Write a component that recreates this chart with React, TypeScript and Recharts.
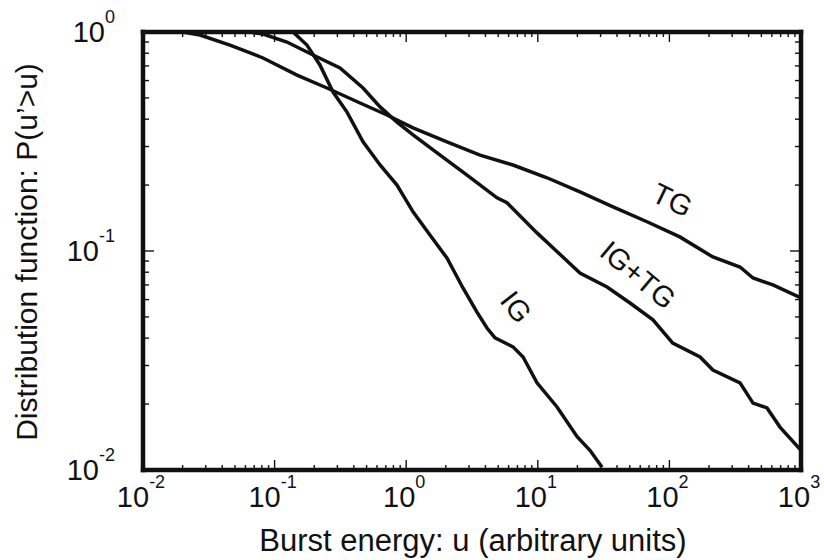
import React from 'react';
import { LineChart, Line, XAxis, YAxis, ReferenceDot, Label } from 'recharts';

const FONT = '"Liberation Sans", Arial, Helvetica, sans-serif';
const INK = '#111';

// burst energy u and P(u'>u)
const tgU = [0.01, 0.02, 0.0271, 0.0458, 0.0817, 0.148, 0.25, 0.446, 0.714, 1.127, 2.04, 3.64, 6.48, 11.75, 20.9, 37.3, 67.6, 120, 214, 344, 432, 612, 1000];
const tgP = [1, 1, 0.969, 0.872, 0.761, 0.636, 0.555, 0.474, 0.418, 0.365, 0.315, 0.274, 0.247, 0.216, 0.186, 0.159, 0.136, 0.116, 0.0939, 0.0845, 0.0753, 0.07, 0.061];

const igtgU = [0.01, 0.065, 0.0817, 0.124, 0.196, 0.314, 0.47, 0.633, 0.851, 1.127, 1.81, 2.9, 4.9, 5.83, 9.86, 15.5, 20.9, 33.6, 50.2, 75, 106, 171, 214, 344, 432, 552, 692, 1000];
const igtgP = [1, 1, 0.979, 0.9, 0.785, 0.685, 0.555, 0.455, 0.388, 0.339, 0.274, 0.222, 0.175, 0.166, 0.121, 0.0939, 0.0794, 0.0685, 0.0579, 0.0485, 0.038, 0.0328, 0.0286, 0.025, 0.0202, 0.0192, 0.0157, 0.0123];

const igU = [0.01, 0.138, 0.176, 0.221, 0.278, 0.355, 0.47, 0.633, 0.851, 1.127, 1.52, 2.04, 2.7, 3.45, 4.11, 4.73, 6.48, 7.73, 9.86, 14, 19.9, 24.9, 30.8];
const igP = [1, 1, 0.872, 0.707, 0.532, 0.431, 0.315, 0.247, 0.2, 0.151, 0.118, 0.0929, 0.0678, 0.0526, 0.0445, 0.0401, 0.0365, 0.0328, 0.025, 0.0194, 0.0142, 0.0123, 0.0103];

const xMajors = [0.01, 0.1, 1, 10, 100, 1000];
const yMajors = [0.01, 0.1, 1];

const curveLabels = [
  { text: 'TG', u: 105, p: 0.171, angle: 26 },
  { text: 'IG+TG', u: 57.7, p: 0.0777, angle: 40 },
  { text: 'IG', u: 6.83, p: 0.0555, angle: 52 },
];

const toRows = (us: number[], ps: number[]) => us.map((u, i) => ({ u, p: ps[i] }));
const tg = toRows(tgU, tgP);
const igtg = toRows(igtgU, igtgP);
const ig = toRows(igU, igP);

// majors plus 2..9 minors in every decade
const withMinors = (majors: number[]) => {
  const out: number[] = [];
  majors.forEach((m, i) => {
    out.push(m);
    if (i < majors.length - 1) for (let k = 2; k <= 9; k++) out.push(+(m * k).toPrecision(3));
  });
  return out;
};
const xTicks = withMinors(xMajors);
const yTicks = withMinors(yMajors);

const isMajor = (v: number) => Math.abs(Math.log10(v) - Math.round(Math.log10(v))) < 1e-6;
const expOf = (v: number) => Math.round(Math.log10(v));

const Pow = ({ x, y, v, anchor }: any) => (
  <text x={x} y={y} textAnchor={anchor} fontFamily={FONT} fontSize={29} fill={INK}>
    <tspan>10</tspan>
    <tspan dy={-19} fontSize={18}>{expOf(v)}</tspan>
  </text>
);

const BottomTick = ({ x, y, payload }: any) => {
  const major = isMajor(payload.value);
  return (
    <g>
      <line x1={x} x2={x} y1={y} y2={y - (major ? 10 : 5)} stroke={INK} strokeWidth={1.4} />
      {major && <Pow x={x - 2} y={y + 37} v={payload.value} anchor="middle" />}
    </g>
  );
};
const TopTick = ({ x, y, payload }: any) => (
  <line x1={x} x2={x} y1={y} y2={y + (isMajor(payload.value) ? 10 : 5)} stroke={INK} strokeWidth={1.4} />
);
const LeftTick = ({ x, y, payload }: any) => {
  const major = isMajor(payload.value);
  return (
    <g>
      <line x1={x} x2={x + (major ? 11 : 6)} y1={y} y2={y} stroke={INK} strokeWidth={1.4} />
      {major && <Pow x={x - 28} y={y + 10} v={payload.value} anchor="end" />}
    </g>
  );
};
const RightTick = ({ x, y, payload }: any) => (
  <line x1={x} x2={x - (isMajor(payload.value) ? 11 : 6)} y1={y} y2={y} stroke={INK} strokeWidth={1.4} />
);

const frame = { stroke: INK, strokeWidth: 4.5, strokeLinecap: 'square' as const };

const labelShape = (text: string, angle: number) => (props: any) => (
  <text
    x={props.cx}
    y={props.cy}
    transform={`rotate(${angle} ${props.cx} ${props.cy})`}
    textAnchor="middle"
    dominantBaseline="central"
    fontFamily={FONT}
    fontSize={29}
    fill={INK}
  >
    {text}
  </text>
);

export default function App() {
  return (
    <div style={{ position: 'absolute', left: 0, top: 0, background: '#fff' }}>
      <LineChart width={824} height={560} margin={{ top: 31, right: 22, bottom: 0, left: 0 }}>
        <XAxis
          dataKey="u"
          type="number"
          scale="log"
          domain={[0.01, 1000]}
          allowDataOverflow
          ticks={xTicks}
          interval={0}
          tickSize={0}
          tickMargin={0}
          tickLine={false}
          tick={<BottomTick />}
          axisLine={frame}
          height={90}
        >
          <Label
            content={() => (
              <text x={473} y={551} textAnchor="middle" fontFamily={FONT} fontSize={31} fill={INK}>
                Burst energy: u (arbitrary units)
              </text>
            )}
          />
        </XAxis>
        <XAxis
          xAxisId="top"
          orientation="top"
          dataKey="u"
          type="number"
          scale="log"
          domain={[0.01, 1000]}
          allowDataOverflow
          ticks={xTicks}
          interval={0}
          tickSize={0}
          tickMargin={0}
          tickLine={false}
          tick={<TopTick />}
          axisLine={frame}
          height={1}
        />
        <YAxis
          type="number"
          scale="log"
          domain={[0.01, 1]}
          allowDataOverflow
          ticks={yTicks}
          interval={0}
          tickSize={0}
          tickMargin={0}
          tickLine={false}
          tick={<LeftTick />}
          axisLine={frame}
          width={143}
        >
          <Label
            content={() => (
              <text
                x={37}
                y={252}
                transform="rotate(-90 37 252)"
                textAnchor="middle"
                fontFamily={FONT}
                fontSize={30}
                fill={INK}
              >
                Distribution function: P(u’&gt;u)
              </text>
            )}
          />
        </YAxis>
        <YAxis
          yAxisId="right"
          orientation="right"
          type="number"
          scale="log"
          domain={[0.01, 1]}
          allowDataOverflow
          ticks={yTicks}
          interval={0}
          tickSize={0}
          tickMargin={0}
          tickLine={false}
          tick={<RightTick />}
          axisLine={frame}
          width={1}
        />
        <Line data={tg} dataKey="p" type="linear" stroke={INK} strokeWidth={3.5} dot={false} isAnimationActive={false} />
        <Line data={igtg} dataKey="p" type="linear" stroke={INK} strokeWidth={3.5} dot={false} isAnimationActive={false} />
        <Line data={ig} dataKey="p" type="linear" stroke={INK} strokeWidth={3.5} dot={false} isAnimationActive={false} />
        {curveLabels.map((l) => (
          <ReferenceDot key={l.text} x={l.u} y={l.p} r={1} shape={labelShape(l.text, l.angle)} />
        ))}
      </LineChart>
    </div>
  );
}
